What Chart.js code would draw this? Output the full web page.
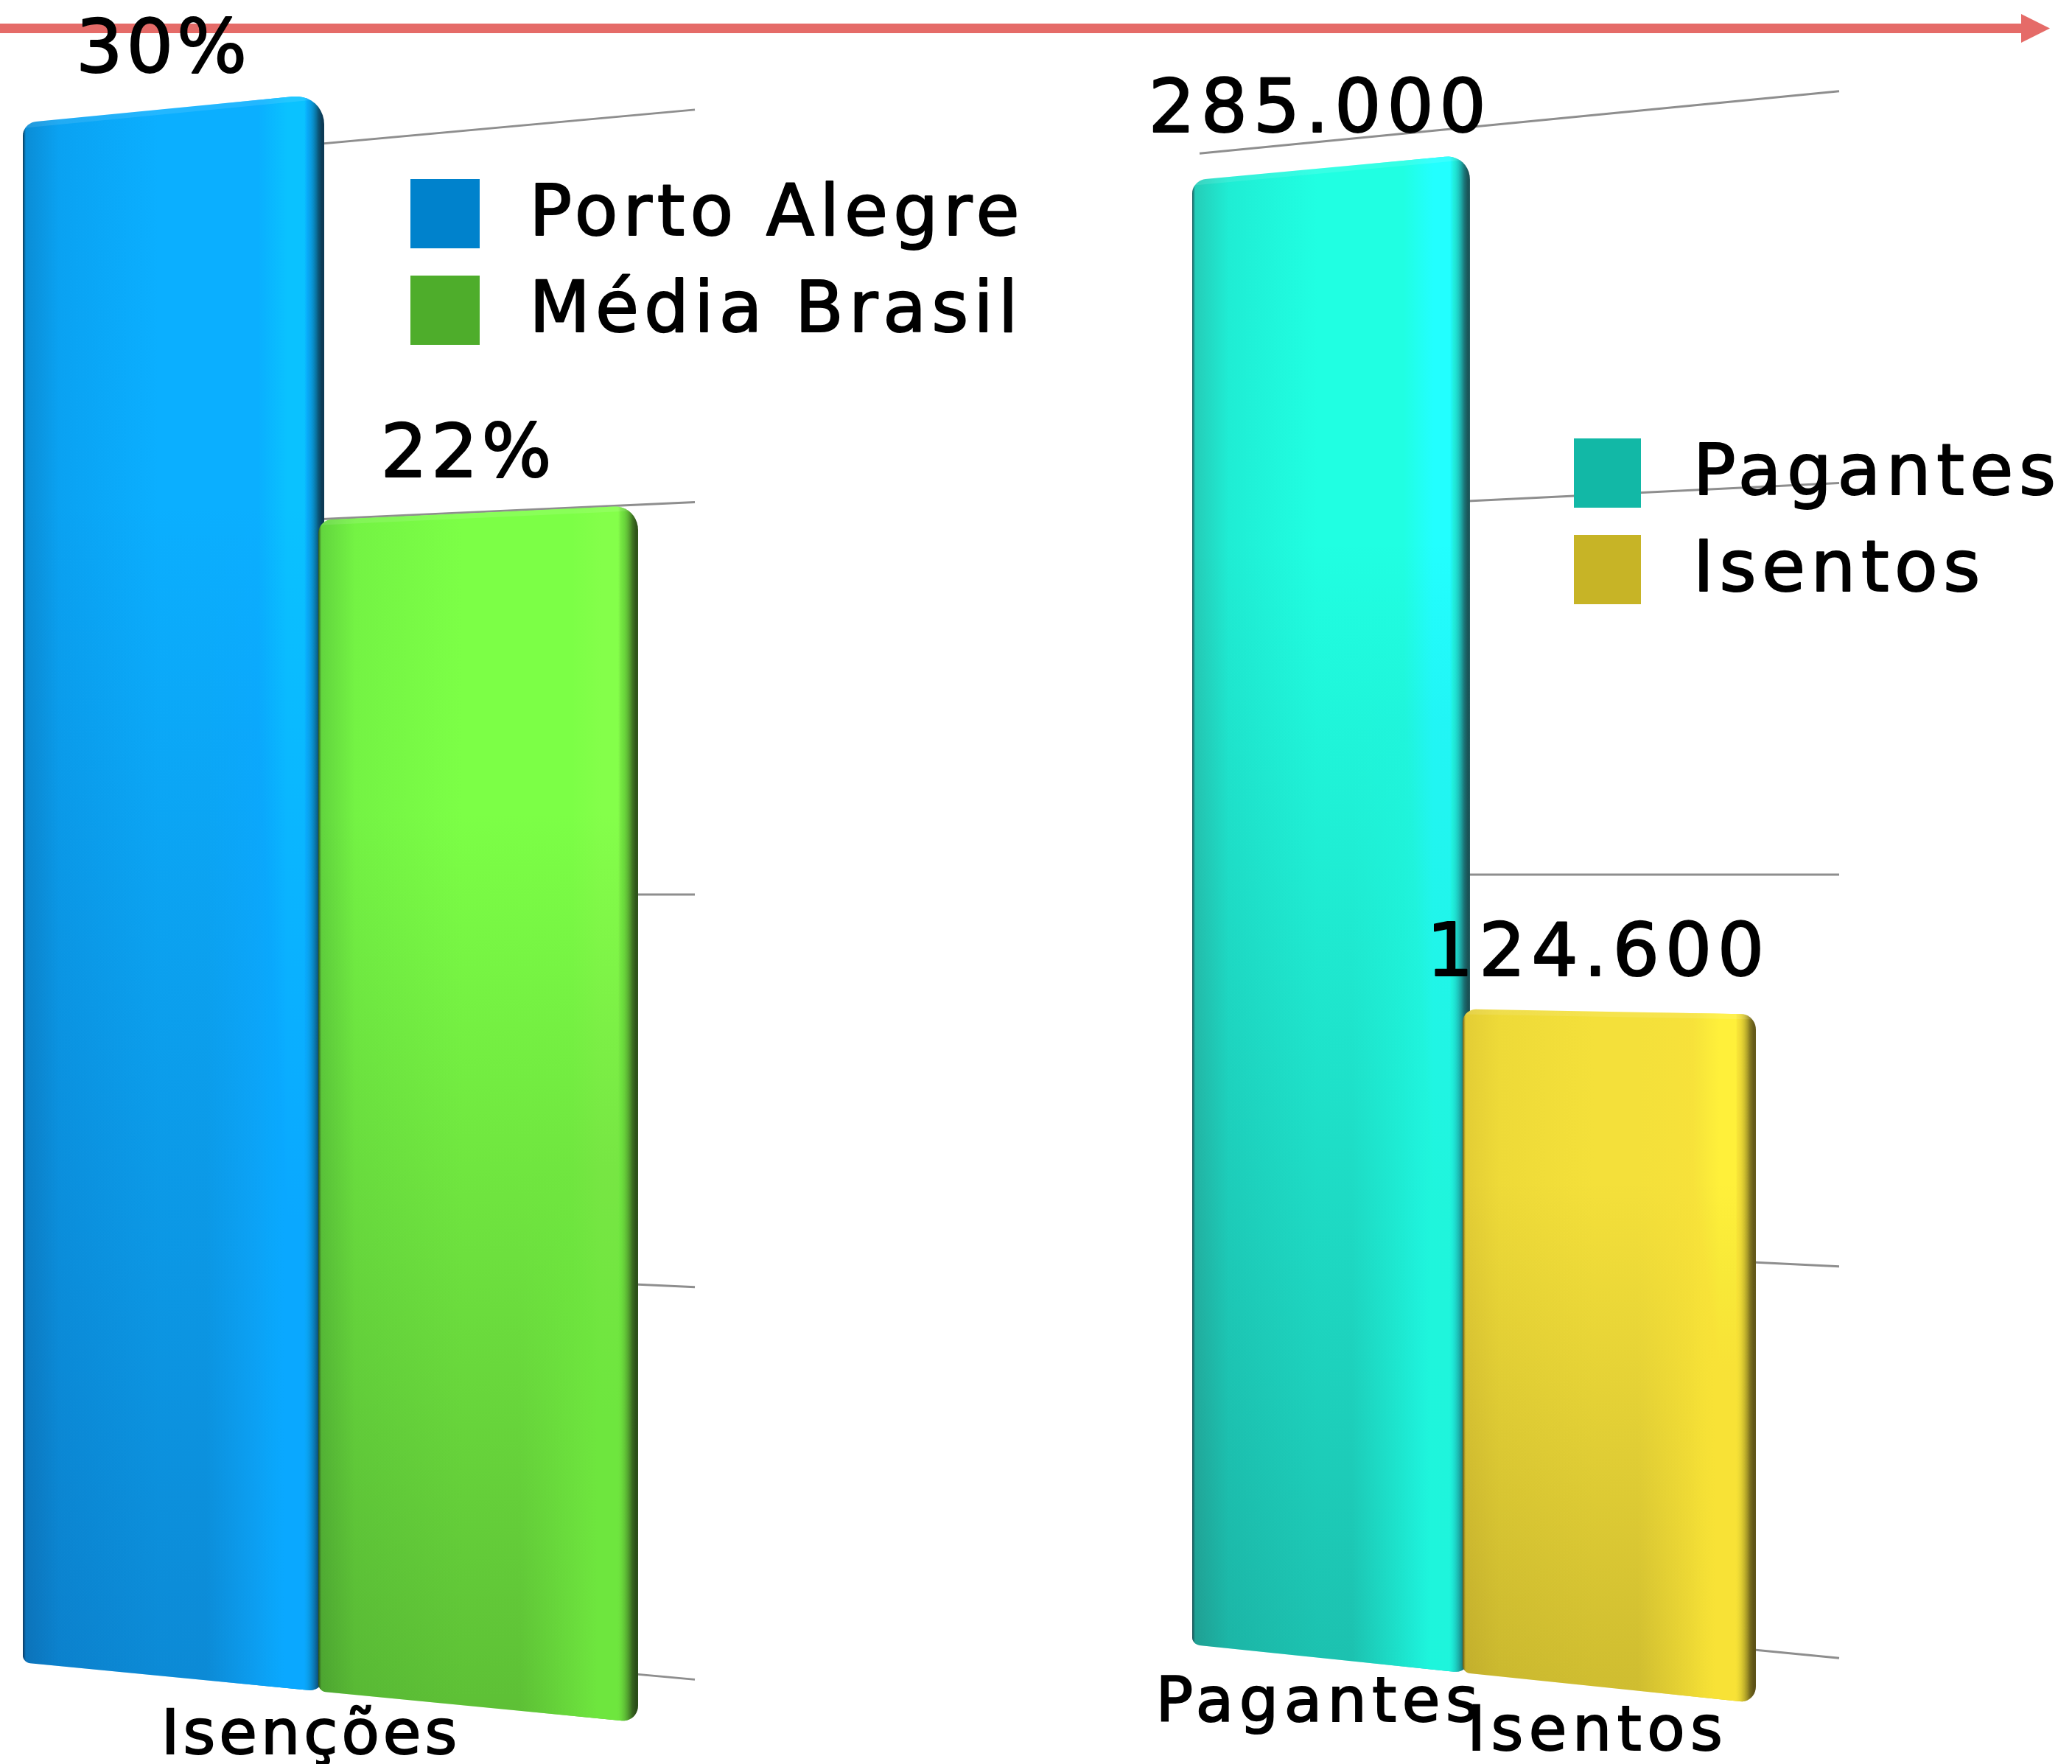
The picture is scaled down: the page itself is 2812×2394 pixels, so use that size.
<!DOCTYPE html>
<html lang="pt-BR">
<head>
<meta charset="utf-8">
<title>Isenções e pagantes</title>
<script src="https://cdn.jsdelivr.net/npm/chart.js@4/dist/chart.umd.min.js"></script>
<style>
html,body{margin:0;padding:0;background:#fff;width:2812px;height:2394px;overflow:hidden}
canvas,svg{position:absolute;left:0;top:0}
</style>
</head>
<body>
<svg width="2812" height="2394" viewBox="0 0 2812 2394">
  <rect x="0" y="32" width="2744" height="13" fill="#E56B68"/>
  <polygon points="2743,19 2782,38.5 2743,58" fill="#E56B68"/>
</svg>
<canvas id="left" width="2812" height="2394"></canvas>
<canvas id="right" width="2812" height="2394"></canvas>
<script>
// ---------- data ----------
const categoriesLeft = ['Isenções'];
const seriesLeftNames = ['Porto Alegre', 'Média Brasil'];
const portoAlegre = [30];
const mediaBrasil = [22];
const axisMaxLeft = 30;
const axisStepLeft = 7.5;

const categoriesRight = ['Pagantes', 'Isentos'];
const pagantesIsentos = [285000, 124600];
const axisMaxRight = 300000;
const axisStepRight = 75000;

// ---------- styling ----------
const FONT = '"DejaVu Sans", sans-serif';
const palettes = {
  blue:   {legend:'#0082CC', edge:'#0B8DD6', mid1:'#0AA2F2', mid2:'#0BAFFF', hi:'#05C2FF', side:'#0C3A55', fade:'15,53,118,0.30', glow:'10,168,255', corner:42},
  green:  {legend:'#4EAD2B', edge:'#62D53E', mid1:'#74F344', mid2:'#7CFF46', hi:'#84FF4A', side:'#30551A', fade:'30,60,20,0.32', glow:'110,230,62', corner:32},
  teal:   {legend:'#12B8A6', edge:'#25CDB8', mid1:'#1FEDD4', mid2:'#20FFE2', hi:'#22FFFF', side:'#1A5558', fade:'20,52,60,0.30', glow:'28,245,220', corner:34},
  yellow: {legend:'#C7B426', edge:'#E3CD35', mid1:'#EEDA38', mid2:'#F4E03A', hi:'#FFF03A', side:'#655A1A', fade:'60,50,10,0.20', glow:'248,226,54', corner:20}
};

function warpFns(p) {
  return {
    xw: x => x - p.c * (x - p.left) * (p.right - x),
    yw: (x, y) => p.yc + (y - p.yc) * (1 + p.s * (x - p.x0)),
    back: y => p.yc + (y - p.yc) * p.depth + p.backDy
  };
}

function barOutline(L, R, T, B, yw, corner) {
  const pts = [];
  const arc = (cx, cy, r, a0, a1) => {
    for (let i = 0; i <= 10; i++) {
      const a = a0 + (a1 - a0) * i / 10;
      const x = cx + r * Math.cos(a), y = cy + r * Math.sin(a);
      pts.push([x, yw(x, y)]);
    }
  };
  const rtl = 18, rtr = corner, rb = 10, rbr = 22;
  arc(L + rtl, T + rtl, rtl, Math.PI, 1.5 * Math.PI);
  arc(R - rtr, T + rtr, rtr, 1.5 * Math.PI, 2 * Math.PI);
  arc(R - rbr, B - rbr, rbr, 0, 0.5 * Math.PI);
  arc(L + rb, B - rb, rb, 0.5 * Math.PI, Math.PI);
  return pts;
}

function paintBar(ctx, el, pal, p, w) {
  const L = w.xw(el.x - el.width / 2);
  const R = w.xw(el.x + el.width / 2) + p.overlap;
  const T = el.y, B = el.base;
  const pts = barOutline(L, R, T, B, w.yw, pal.corner);
  ctx.save();
  ctx.beginPath();
  pts.forEach((q, i) => i ? ctx.lineTo(q[0], q[1]) : ctx.moveTo(q[0], q[1]));
  ctx.closePath();
  ctx.clip();

  const W = R - L;
  const g = ctx.createLinearGradient(L, 0, R, 0);
  g.addColorStop(0, pal.side);
  g.addColorStop(4 / W, pal.edge);
  g.addColorStop(50 / W, pal.mid1);
  g.addColorStop(0.45, pal.mid2);
  g.addColorStop((W - 90) / W, pal.mid2);
  g.addColorStop((W - 50) / W, pal.hi);
  g.addColorStop((W - 27) / W, pal.hi);
  g.addColorStop((W - 3) / W, pal.side);
  g.addColorStop(1, pal.side);
  ctx.fillStyle = g;
  ctx.fillRect(L - 2, 0, W + 4, 2394);

  const topY = w.yw((L + R) / 2, T), botY = w.yw((L + R) / 2, B);
  const v = ctx.createLinearGradient(0, topY, 0, botY);
  const parts = pal.fade.split(',');
  const rgb = parts.slice(0, 3).join(',');
  v.addColorStop(0, 'rgba(' + rgb + ',0)');
  v.addColorStop(0.25, 'rgba(' + rgb + ',0)');
  v.addColorStop(1, 'rgba(' + rgb + ',' + parts[3] + ')');
  ctx.fillStyle = v;
  ctx.fillRect(L - 2, 0, W + 4, 2394);

  // the lit right flank keeps its brightness further down the bar
  ctx.globalCompositeOperation = 'lighten';
  const h = ctx.createLinearGradient(L, 0, R, 0);
  h.addColorStop(0, 'rgba(' + pal.glow + ',0)');
  h.addColorStop((W - 160) / W, 'rgba(' + pal.glow + ',0)');
  h.addColorStop((W - 55) / W, 'rgba(' + pal.glow + ',1)');
  h.addColorStop((W - 28) / W, 'rgba(' + pal.glow + ',1)');
  h.addColorStop((W - 8) / W, 'rgba(' + pal.glow + ',0)');
  h.addColorStop(1, 'rgba(' + pal.glow + ',0)');
  ctx.fillStyle = h;
  ctx.fillRect(L - 2, 0, W + 4, 2394);
  ctx.globalCompositeOperation = 'source-over';

  // soft highlight along the bevelled top edge
  ctx.beginPath();
  ctx.moveTo(L, w.yw(L, T));
  ctx.lineTo(R, w.yw(R, T));
  ctx.strokeStyle = 'rgba(255,255,255,0.10)';
  ctx.lineWidth = 14;
  ctx.stroke();
  ctx.restore();
}

function makePlugin(p) {
  const w = warpFns(p);
  return {
    id: 'perspective',
    beforeDraw(chart) {
      const ctx = chart.ctx, yScale = chart.scales.y, xScale = chart.scales.x;

      // receding back-wall grid lines, from the y scale's own ticks
      ctx.save();
      ctx.strokeStyle = '#8E8E8E';
      ctx.lineWidth = 3;
      yScale.ticks.forEach(t => {
        const y = w.back(yScale.getPixelForValue(t.value));
        ctx.beginPath();
        ctx.moveTo(p.gridFrom, w.yw(p.gridFrom, y));
        ctx.lineTo(p.gridTo, w.yw(p.gridTo, y));
        ctx.stroke();
      });
      ctx.restore();

      // library-drawn legend, moved to its spot
      const lg = chart.legend;
      const pad = lg.options.labels.padding;
      lg.left = p.legendX - pad;
      lg.top = p.legendY - pad - 1;
      lg.right = chart.width;
      lg.bottom = chart.height;
      if (!lg._nudged) {
        lg._nudged = true;
        const draw = lg.draw;
        lg.draw = function (area) {
          const fill = ctx.fillText;
          ctx.fillText = function (t, x, y) {
            ctx.lineWidth = 2;
            ctx.lineJoin = 'round';
            ctx.strokeStyle = '#000';
            ctx.strokeText(t, x - p.legendTextDx, y + 4);
            fill.call(ctx, t, x - p.legendTextDx, y + 4);
          };
          draw.call(lg, area);
          delete ctx.fillText;
        };
      }

      // library-drawn category labels follow the tilted base
      const base = yScale.getPixelForValue(0);
      xScale.getLabelItems(chart.chartArea).forEach((it, i) => {
        const cx = p.categoryCenters(chart, i, w);
        it.textOffset = 0;
        it.options.translation = [cx + p.labelDx, w.yw(cx, base) + p.labelGap];
        it.options.textAlign = 'center';
        it.options.textBaseline = 'alphabetic';
      });

      ctx.letterSpacing = p.legendSpacing;
    },
    beforeDatasetsDraw(chart) {
      const ctx = chart.ctx;
      // paint in dataset order so that later bars overlap earlier ones
      chart.data.datasets.forEach((ds, di) => {
        chart.getDatasetMeta(di).data.forEach((el, i) => {
          paintBar(ctx, el, palettes[p.paletteOf(di, i)], p, w);
        });
      });
      // value labels
      ctx.save();
      ctx.letterSpacing = p.valueSpacing;
      ctx.font = '100px ' + FONT;
      ctx.fillStyle = '#000';
      ctx.strokeStyle = '#000';
      ctx.lineWidth = 2;
      ctx.lineJoin = 'round';
      ctx.textAlign = 'center';
      ctx.textBaseline = 'alphabetic';
      chart.data.datasets.forEach((ds, di) => {
        chart.getDatasetMeta(di).data.forEach((el, i) => {
          const mid = (w.xw(el.x - el.width / 2) + w.xw(el.x + el.width / 2)) / 2;
          const tx = mid + p.valueDx, ty = w.yw(mid, el.y) - p.valueGap;
          ctx.strokeText(p.format(ds.data[i]), tx, ty);
          ctx.fillText(p.format(ds.data[i]), tx, ty);
        });
      });
      ctx.restore();
      ctx.letterSpacing = p.tickSpacing;
      return false;
    }
  };
}

function baseOptions(max, step, top, axisH, left, rightEdge, boxWidth, generateLabels) {
  return {
    responsive: false,
    animation: false,
    devicePixelRatio: 1,
    layout: {padding: {top: top, bottom: 0, left: left, right: 2812 - rightEdge}},
    plugins: {
      tooltip: {enabled: false},
      title: {display: false},
      legend: {
        display: true,
        position: 'chartArea',
        align: 'start',
        labels: {
          boxWidth: boxWidth, boxHeight: 94, padding: 35, color: '#000',
          font: {family: FONT, size: 96},
          generateLabels
        }
      }
    },
    scales: {
      x: {
        type: 'category',
        offset: true,
        grid: {display: false},
        border: {display: false},
        ticks: {display: true, z: 1, color: '#000', autoSkip: false, maxRotation: 0,
                textStrokeColor: '#000', textStrokeWidth: 2,
                font: {family: FONT, size: 84}, padding: 0},
        afterFit(s) { s.height = axisH; }
      },
      y: {
        display: false,
        min: 0, max: max,
        ticks: {stepSize: step},
        grid: {display: false}
      }
    }
  };
}

const swatch = (text, color, i) => ({
  text: '\u2009' + text, fillStyle: color, strokeStyle: color, lineWidth: 0,
  hidden: false, datasetIndex: i, fontColor: '#000'
});

// ---------- left chart ----------
const leftPanel = {
  left: 31, right: 858, overlap: 8, c: 7.3e-5,
  yc: 1212, s: 8.95e-5, x0: 430, depth: 0.94, backDy: 2.5,
  gridFrom: 36, gridTo: 943,
  legendX: 557, legendY: 243, legendTextDx: 7, legendSpacing: '7px', valueSpacing: '5px', tickSpacing: '5px',
  labelDx: -10, labelGap: 85, valueDx: -10, valueGap: 49,
  paletteOf: di => ['blue', 'green'][di],
  format: v => v + '%',
  categoryCenters: (chart, i, w) => w.xw(chart.scales.x.getPixelForTick(i))
};
new Chart(document.getElementById('left'), {
  type: 'bar',
  data: {
    labels: categoriesLeft,
    datasets: [
      {label: seriesLeftNames[0], data: portoAlegre, backgroundColor: palettes.blue.legend, categoryPercentage: 1, barPercentage: 1},
      {label: seriesLeftNames[1], data: mediaBrasil, backgroundColor: palettes.green.legend, categoryPercentage: 1, barPercentage: 1}
    ]
  },
  options: baseOptions(axisMaxLeft, axisStepLeft, 128, 99, 31, 858, 94,
    chart => chart.data.datasets.map((d, i) => swatch(d.label, d.backgroundColor, i))),
  plugins: [makePlugin(leftPanel)]
});

// ---------- right chart ----------
const rightPanel = {
  left: 1618, right: 2373, overlap: 10, c: 7.4e-5,
  yc: 1187, s: 9.6e-5, x0: 1985, depth: 0.935, backDy: 1,
  gridFrom: 1628, gridTo: 2496,
  legendX: 2136, legendY: 595, legendTextDx: 4, legendSpacing: '7.5px', valueSpacing: '7.5px', tickSpacing: '7.5px',
  labelDx: -8, labelGap: 85, valueDx: -10, valueGap: 49,
  paletteOf: (di, i) => ['teal', 'yellow'][i],
  format: v => v.toLocaleString('pt-BR'),
  categoryCenters: (chart, i, w) => w.xw(chart.scales.x.getPixelForTick(i))
};
new Chart(document.getElementById('right'), {
  type: 'bar',
  data: {
    labels: categoriesRight,
    datasets: [
      {label: 'Passageiros', data: pagantesIsentos,
       backgroundColor: [palettes.teal.legend, palettes.yellow.legend],
       categoryPercentage: 1, barPercentage: 1}
    ]
  },
  options: baseOptions(axisMaxRight, axisStepRight, 102, 124, 1618, 2373, 91,
    chart => chart.data.labels.map((l, i) => swatch(l, chart.data.datasets[0].backgroundColor[i], 0))),
  plugins: [makePlugin(rightPanel)]
});
</script>
</body>
</html>
